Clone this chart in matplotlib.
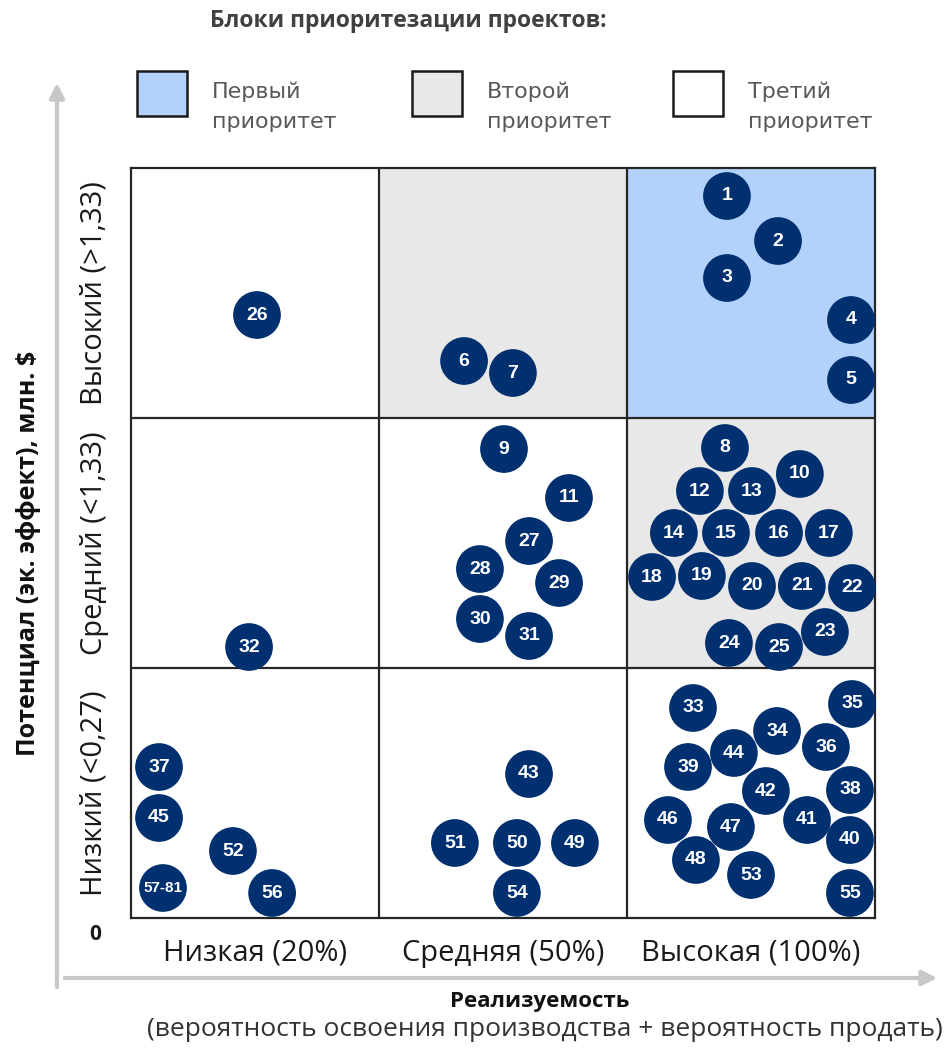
import matplotlib
matplotlib.use("Agg")
import matplotlib.pyplot as plt
from matplotlib.colors import ListedColormap
from matplotlib.patches import Rectangle
import numpy as np

# Приоритет ячеек матрицы (строки снизу вверх, столбцы слева направо)
cell_priority = [
    [3, 3, 3],
    [3, 3, 2],
    [3, 2, 1],
]
priority_colors = ["#B3D2FB", "#E8E8E8", "#FFFFFF"]
priority_names = ["Первый\nприоритет", "Второй\nприоритет", "Третий\nприоритет"]

col_labels = ["Низкая (20%)", "Средняя (50%)", "Высокая (100%)"]
row_labels = ["Низкий (<0,27)", "Средний (<1,33)", "Высокий (>1,33)"]

# Проекты: номер, реализуемость (0..300), потенциал (0..300)
project_ids = [
    "1", "2", "3", "4", "5", "6", "7", "8", "9", "10",
    "11", "12", "13", "14", "15", "16", "17", "18", "19", "20",
    "21", "22", "23", "24", "25", "26", "27", "28", "29", "30",
    "31", "32", "33", "34", "35", "36", "37", "38", "39", "40",
    "41", "42", "43", "44", "45", "46", "47", "48", "49", "50",
    "51", "52", "53", "54", "55", "56", "57-81",
]
feasibility = [
    240.3, 260.9, 240.3, 290.3, 290.3, 134.3, 154.0, 239.5, 150.4, 269.7,
    176.6, 229.4, 250.4, 218.9, 239.9, 261.3, 281.4, 210.1, 230.2, 250.4,
    270.5, 290.7, 279.8, 241.1, 261.3, 50.8, 160.5, 140.7, 172.6, 140.7,
    160.5, 47.6, 226.6, 260.5, 290.7, 280.2, 11.3, 289.9, 224.6, 289.9,
    272.6, 256.0, 160.5, 243.1, 11.3, 216.5, 241.9, 227.8, 179.0, 155.6,
    130.6, 41.1, 250.0, 155.6, 289.9, 56.9, 12.9,
]
potential = [
    288.8, 270.8, 256.0, 239.2, 215.2, 222.8, 218.0, 188.0, 187.6, 177.6,
    168.0, 170.8, 170.8, 154.0, 154.0, 154.0, 154.0, 136.4, 136.8, 132.8,
    132.8, 132.0, 114.4, 110.0, 108.4, 241.2, 150.8, 139.6, 134.0, 119.6,
    112.8, 108.4, 84.0, 74.8, 85.6, 68.4, 60.4, 51.2, 60.4, 31.2,
    39.2, 50.8, 57.6, 66.0, 40.0, 39.2, 36.4, 23.2, 30.0, 30.0,
    30.0, 26.8, 17.2, 10.0, 10.0, 10.0, 12.0,
]

navy = "#00306F"
line_col = "#262626"
arrow_col = "#C8C8C8"

fig = plt.figure(figsize=(9.48, 10.48), dpi=100)
W, H = 948, 1048
ax = fig.add_axes([131 / W, 130 / H, 744 / W, 750 / H])

# фон ячеек по приоритету
edges = np.arange(0, 301, 100)
cmap = ListedColormap(priority_colors)
ax.pcolormesh(edges, edges, np.array(cell_priority), cmap=cmap, vmin=0.5, vmax=3.5, zorder=0)
for v in (100, 200):
    ax.axvline(v, color=line_col, lw=1.6, zorder=1)
    ax.axhline(v, color=line_col, lw=1.6, zorder=1)
for sp in ax.spines.values():
    sp.set_color(line_col)
    sp.set_linewidth(1.6)

ax.set_xlim(0, 300)
ax.set_ylim(0, 300)

ax.scatter(feasibility, potential, s=1180, color=navy, edgecolors="none", zorder=3, clip_on=False)
for pid, x, y in zip(project_ids, feasibility, potential):
    fs = 11 if "-" in pid else 14
    ax.text(x, y, pid, color="white", fontsize=fs, fontweight="bold",
            family="Liberation Sans", ha="center", va="center", zorder=4)

ax.set_xticks([50, 150, 250])
ax.set_xticklabels(col_labels, fontsize=21, family="Open Sans", color="#1A1A1A")
ax.set_yticks([50, 150, 250])
ax.set_yticklabels(row_labels, fontsize=21, family="Open Sans", color="#1A1A1A",
                   rotation=90, va="center")
ax.tick_params(axis="x", length=0, pad=15)
ax.tick_params(axis="y", length=0, pad=16)

# оси-стрелки
ax.annotate("", xy=(57, H - 80), xytext=(57, H - 990), xycoords="figure pixels",
            arrowprops=dict(arrowstyle="-|>", color=arrow_col, lw=3, mutation_scale=22))
ax.annotate("", xy=(940, H - 978), xytext=(62, H - 978), xycoords="figure pixels",
            arrowprops=dict(arrowstyle="-|>", color=arrow_col, lw=3, mutation_scale=22))

fig.text(95 / W, 1 - 934 / H, "0", fontsize=15, fontweight="bold", family="Open Sans",
         ha="center", va="center", color="#1A1A1A")

fig.text(29 / W, 1 - 553 / H, "Потенциал (эк. эффект), млн. $", rotation=90,
         fontsize=18, fontweight="bold", family="Open Sans", ha="center", va="center",
         color="#111111")
fig.text(540 / W, 1 - 1002 / H, "Реализуемость", fontsize=16, fontweight="bold",
         family="Open Sans", ha="center", va="center", color="#111111")
fig.text(545 / W, 1 - 1030 / H, "(вероятность освоения производства + вероятность продать)",
         fontsize=19, family="Open Sans", ha="center", va="center", color="#333333")

fig.text(408 / W, 1 - 21 / H, "Блоки приоритезации проектов:", fontsize=16.5,
         fontweight="bold", family="Open Sans", ha="center", va="center", color="#404040")

# легенда блоков
box_x = [137, 412, 673]
for bx, col, name in zip(box_x, priority_colors, priority_names):
    fig.add_artist(Rectangle((bx / W, 1 - 116 / H), 50 / W, 45 / H, facecolor=col,
                             edgecolor="#1A1A1A", lw=1.8, transform=fig.transFigure))
    fig.text((bx + 75) / W, 1 - 107 / H, name, fontsize=16, family="DejaVu Sans",
             ha="left", va="center", color="#595959", linespacing=1.6)

fig.savefig("out.png", dpi=100)
